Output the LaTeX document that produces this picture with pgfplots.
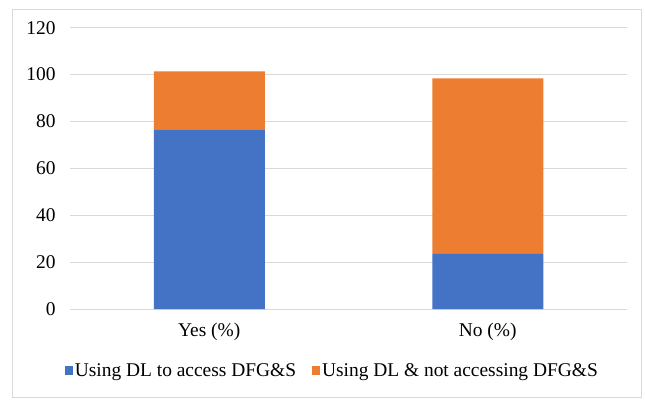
\documentclass[border=0pt]{standalone}
\usepackage{pgfplots}
\pgfplotsset{compat=1.18}
\usepackage{fontspec}
\setmainfont{Liberation Serif}
\definecolor{cblue}{HTML}{4472C4}
\definecolor{corange}{HTML}{ED7D31}
\definecolor{cgrid}{HTML}{D9D9D9}
\begin{document}
\begin{tikzpicture}[x=1bp,y=1bp]
\useasboundingbox (0,0) rectangle (645,399);
\draw[cgrid, line width=1bp] (12,2) rectangle (641,389);
\begin{axis}[
  at={(70bp,90bp)}, anchor=south west,
  scale only axis, width=557bp, height=281.3bp,
  ybar stacked, bar width=111bp,
  xmin=-0.5, xmax=1.5, ymin=0, ymax=120,
  xtick={0,1}, xticklabels={Yes (\%), No (\%)},
  ytick={0,20,...,120},
  ymajorgrids, grid style={cgrid, line width=1bp},
  axis line style={draw=none},
  major tick style={draw=none},
  /pgf/number format/assume math mode=true,
  tick label style={font=\fontsize{19.5}{21}\selectfont},
  yticklabel style={xshift=-11bp},
  xticklabel style={yshift=-10bp},
  legend columns=2,
  legend style={draw=none, fill=none, at={(axis description cs:0.471,-0.22)}, anchor=center,
    font=\fontsize{19.5}{21}\selectfont,
    /tikz/every even column/.append style={column sep=14bp},
    inner sep=0pt},
  legend image code/.code={\fill[#1] (0bp,-4.5bp) rectangle (8bp,4.5bp);},
]
\addplot[fill=cblue, draw=none] coordinates {(0,76.6) (1,23.5)};
\addplot[fill=corange, draw=none] coordinates {(0,24.8) (1,74.9)};
\legend{Using DL to access DFG\&S, Using DL \& not accessing DFG\&S}
\end{axis}
\end{tikzpicture}
\end{document}
